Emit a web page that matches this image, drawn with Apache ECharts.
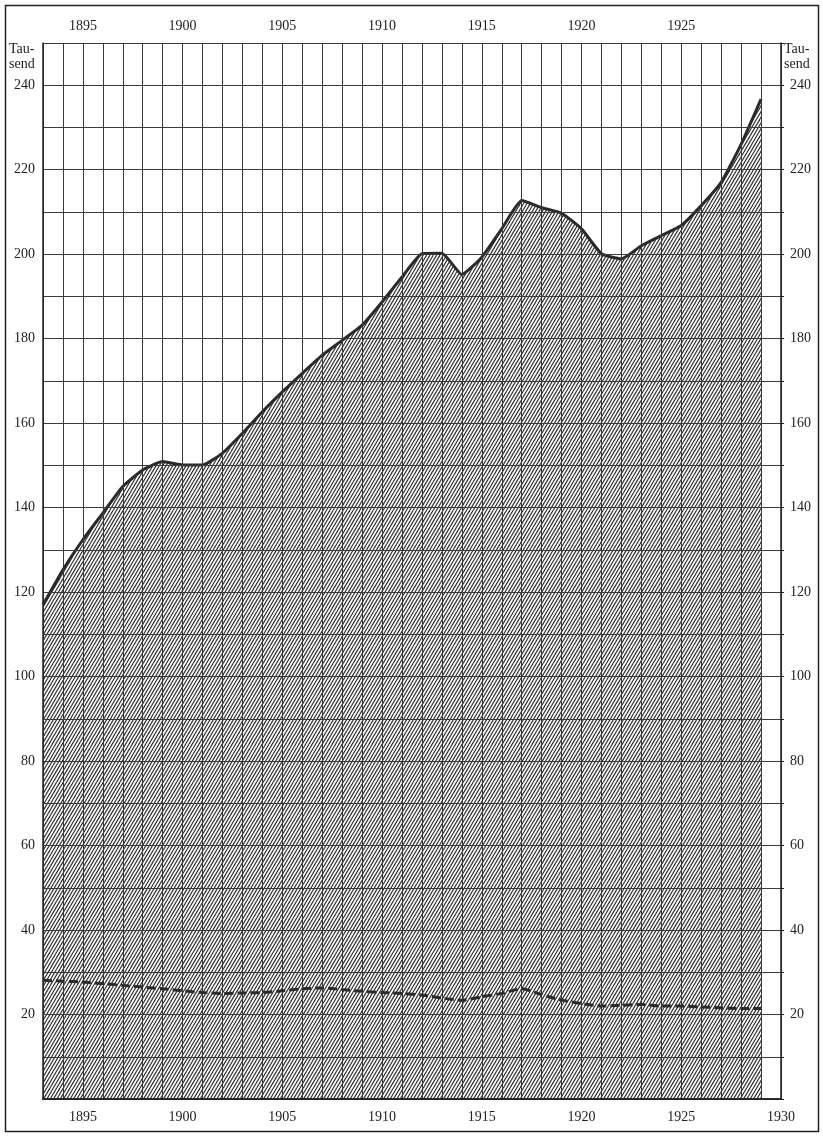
<!DOCTYPE html>
<html><head><meta charset="utf-8">
<script src="https://cdn.jsdelivr.net/npm/echarts@6/dist/echarts.min.js"></script>
<style>html,body{margin:0;padding:0;background:#fff}#c{width:823px;height:1136px}</style>
</head><body><div id="c"></div>
<script>
const years = [1893,1894,1895,1896,1897,1898,1899,1900,1901,1902,1903,1904,1905,1906,1907,1908,1909,1910,1911,1912,1913,1914,1915,1916,1917,1918,1919,1920,1921,1922,1923,1924,1925,1926,1927,1928,1929];
const totalValues = [117,125.3,132.4,138.7,145,148.9,150.9,150.1,150.1,152.9,157.6,162.7,167.4,171.8,176.1,179.6,183.2,188.7,194.6,200.1,200.2,195.2,199.3,206,212.7,211,209.7,206,200.1,198.9,202,204.4,206.8,211.5,217,226,236.7];
const partValues = [28.1,27.9,27.7,27.3,26.9,26.5,26.1,25.6,25.2,25.0,25.1,25.2,25.6,26.1,26.3,25.9,25.5,25.2,25.0,24.6,23.9,23.4,24.2,25.0,26.1,24.7,23.4,22.6,22.0,22.2,22.4,22.0,22.0,21.8,21.6,21.4,21.4];
const bottomYearLabels = [1895,1900,1905,1910,1915,1920,1925,1930];
const topYearLabels = [1895,1900,1905,1910,1915,1920,1925];
const yTickLabels = [20,40,60,80,100,120,140,160,180,200,220,240];

function hatch(){
  const w=10,h=17,c=document.createElement('canvas');
  c.width=w;c.height=h;
  const g=c.getContext('2d');
  g.strokeStyle='#2a2a2a';g.lineWidth=1.15;
  const sp=w/3;
  for(let i=-6;i<=9;i++){
    const x0=i*sp;
    g.beginPath();g.moveTo(x0,h);g.lineTo(x0+w,0);g.stroke();
  }
  return c;
}
const font="'Liberation Serif','DejaVu Serif',serif";
const chart=echarts.init(document.getElementById('c'),null,{renderer:'canvas'});
const gridLine={show:true,lineStyle:{color:'#3a3a3a',width:1}};
const axLine={show:true,lineStyle:{color:'#222',width:1.5}};
chart.setOption({
  animation:false,
  backgroundColor:'#fff',
  grid:{left:43,right:42,top:43,bottom:37},
  xAxis:[
    {type:'value',min:1893,max:1930,interval:1,position:'bottom',z:3,
     axisLine:axLine,axisTick:{show:false},splitLine:gridLine,
     axisLabel:{margin:11,color:'#222',fontFamily:font,fontSize:14,
       formatter:v=>bottomYearLabels.includes(v)?String(v):''}},
    {type:'value',min:1893,max:1930,interval:1,position:'top',z:3,
     axisLine:axLine,axisTick:{show:false},splitLine:{show:false},
     axisLabel:{margin:10,color:'#222',fontFamily:font,fontSize:14,
       formatter:v=>topYearLabels.includes(v)?String(v):''}}
  ],
  yAxis:[
    {type:'value',min:0,max:250,interval:10,position:'left',z:3,
     axisLine:axLine,axisTick:{show:false},splitLine:gridLine,
     axisLabel:{margin:8,color:'#222',fontFamily:font,fontSize:14,
       formatter:v=>yTickLabels.includes(v)?String(v):''}},
    {type:'value',min:0,max:250,interval:10,position:'right',z:3,
     axisLine:axLine,axisTick:{show:true,length:3,lineStyle:{color:'#222'}},splitLine:{show:false},
     axisLabel:{margin:9,color:'#222',fontFamily:font,fontSize:14,
       formatter:v=>yTickLabels.includes(v)?String(v):''}}
  ],
  series:[
    {type:'line',xAxisIndex:0,yAxisIndex:0,data:years.map((y,i)=>[y,totalValues[i]]),
     showSymbol:false,smooth:0.15,z:2,
     lineStyle:{color:'#2a2a2a',width:3},
     areaStyle:{color:{image:hatch(),repeat:'repeat'},opacity:1,origin:'start'}},
    {type:'line',xAxisIndex:0,yAxisIndex:0,data:years.map((y,i)=>[y,partValues[i]]),
     showSymbol:false,smooth:0.2,z:4,
     lineStyle:{color:'#2a2a2a',width:3,type:[9,4]}}
  ],
  graphic:[
    {type:'rect',shape:{x:5.5,y:5.5,width:813,height:1126},style:{fill:'none',stroke:'#222',lineWidth:1.5},silent:true},
    {type:'text',left:9,top:42,style:{text:'Tau-\nsend',font:"14px "+font,fill:'#222',lineHeight:15}},
    {type:'text',left:784,top:42,style:{text:'Tau-\nsend',font:"14px "+font,fill:'#222',lineHeight:15}}
  ]
});
</script></body></html>
